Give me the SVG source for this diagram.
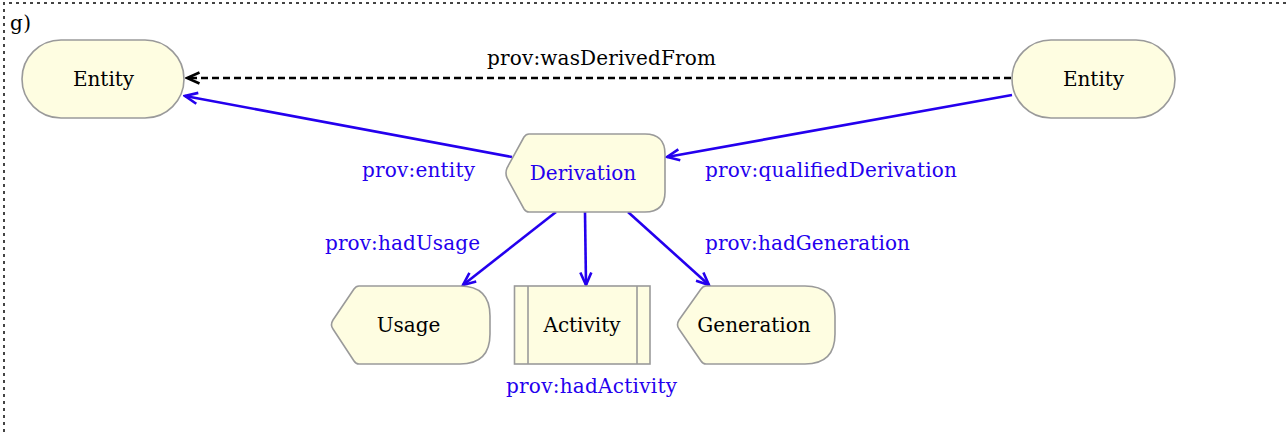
<svg xmlns="http://www.w3.org/2000/svg" width="1287" height="432" viewBox="0 0 1287 432">
<style>
.node{fill:#fefde1;stroke:#9a9a9a;stroke-width:1.6}
.t{font-family:"DejaVu Serif","Liberation Serif",serif;font-size:20px;fill:#000}
.tb{font-family:"DejaVu Serif","Liberation Serif",serif;font-size:20px;fill:#2400ee}
.e{fill:none;stroke:#2400ee;stroke-width:2.6}
.d{fill:none;stroke:#000;stroke-width:2.6;stroke-dasharray:7 4}
.frame{fill:none;stroke:#444;stroke-width:2;stroke-dasharray:3 4}
</style>
<defs>
<marker id="ab" viewBox="0 0 16 14" refX="14" refY="7" markerWidth="16" markerHeight="14" markerUnits="userSpaceOnUse" orient="auto">
<path d="M1.5,1.5 L14,7 L1.5,12.5" fill="none" stroke="#2400ee" stroke-width="2.6" stroke-linejoin="miter"/>
</marker>
<marker id="ak" viewBox="0 0 16 14" refX="14" refY="7" markerWidth="16" markerHeight="14" markerUnits="userSpaceOnUse" orient="auto">
<path d="M1.5,1.5 L14,7 L1.5,12.5" fill="none" stroke="#000" stroke-width="2.6"/>
</marker>
</defs>
<rect width="1287" height="432" fill="#fff"/>
<path class="frame" d="M4,432 V3 H1287"/>
<text class="t" x="10" y="30" textLength="21">g)</text>

<g id="connectors">
<line class="d" x1="1011" y1="78" x2="187" y2="78" marker-end="url(#ak)"/>
<line class="e" x1="512" y1="157" x2="185" y2="96" marker-end="url(#ab)"/>
<line class="e" x1="1012" y1="95" x2="667" y2="157" marker-end="url(#ab)"/>
<line class="e" x1="556" y1="212" x2="463" y2="285" marker-end="url(#ab)"/>
<line class="e" x1="585" y1="212" x2="586" y2="285" marker-end="url(#ab)"/>
<line class="e" x1="628" y1="212" x2="709" y2="285" marker-end="url(#ab)"/>
<text class="t" x="487" y="65" textLength="229">prov:wasDerivedFrom</text>
<text class="tb" x="362" y="177" textLength="113">prov:entity</text>
<text class="tb" x="705" y="177" textLength="252">prov:qualifiedDerivation</text>
<text class="tb" x="325" y="250" textLength="155">prov:hadUsage</text>
<text class="tb" x="705" y="250" textLength="205">prov:hadGeneration</text>
<text class="tb" x="506" y="393" textLength="171">prov:hadActivity</text>
</g>

<g id="entity1">
<rect class="node" x="22" y="40" width="162" height="78" rx="39" ry="39"/>
<text class="t" x="103.5" y="86" text-anchor="middle">Entity</text>
</g>
<g id="entity2">
<rect class="node" x="1012" y="40" width="163" height="78" rx="39" ry="39"/>
<text class="t" x="1093.5" y="86" text-anchor="middle">Entity</text>
</g>
<g id="derivation">
<path class="node" d="M529,134 H645 Q665,134 665,154 V192 Q665,212 645,212 H529 Q526,212 524,209 L507,178 Q505,173 507,168 L524,137 Q526,134 529,134 Z"/>
<text class="tb" x="583" y="180" text-anchor="middle">Derivation</text>
</g>
<g id="usage">
<path class="node" d="M359,286 H460 Q490,286 490,316 V334 Q490,364 460,364 H359 Q356,364 354,361 L333,329 Q330,325 333,320 L354,289 Q356,286 359,286 Z"/>
<text class="t" x="408.5" y="332" text-anchor="middle">Usage</text>
</g>
<g id="activity">
<rect class="node" x="514.5" y="286" width="135.5" height="78"/>
<line class="node" x1="528" y1="286" x2="528" y2="364"/>
<line class="node" x1="637" y1="286" x2="637" y2="364"/>
<text class="t" x="582" y="332" text-anchor="middle">Activity</text>
</g>
<g id="generation">
<path class="node" d="M706,286 H805 Q835,286 835,316 V334 Q835,364 805,364 H706 Q703,364 701,361 L679,329 Q676,325 679,320 L701,289 Q703,286 706,286 Z"/>
<text class="t" x="754" y="332" text-anchor="middle">Generation</text>
</g>
</svg>
